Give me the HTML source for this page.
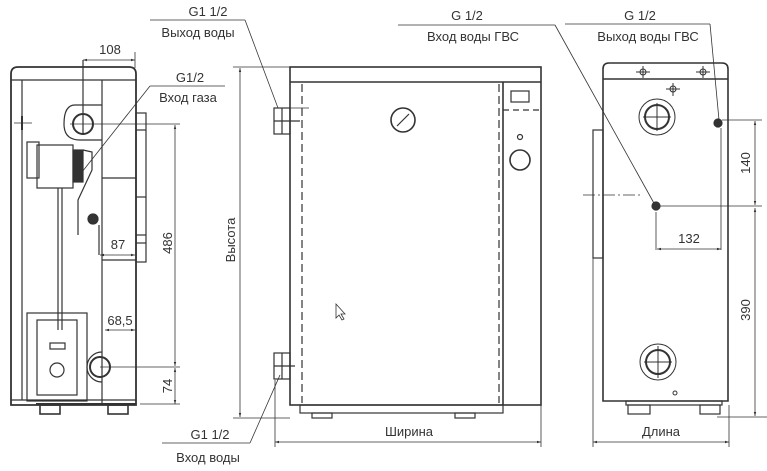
<!DOCTYPE html>
<html><head><meta charset="utf-8"><style>
html,body{margin:0;padding:0;background:#fff;}
svg{display:block;}
text{font-family:"Liberation Sans","DejaVu Sans",sans-serif;fill:#333;}
</style></head><body>
<svg width="767" height="471" viewBox="0 0 767 471" xmlns="http://www.w3.org/2000/svg">
<defs>
<marker id="a" viewBox="0 0 10 10" refX="10" refY="5" markerWidth="8" markerHeight="5" orient="auto-start-reverse"><path d="M0,2 L10,5 L0,8 z" fill="#333"/></marker>
</defs>
<g fill="none" stroke="#333" stroke-width="1.2">
<!-- LEFT VIEW -->
<path d="M11,405 V74 Q11,67 18,67 H129 Q136,67 136,74 V405 Z" stroke-width="1.8"/>
<line x1="22" y1="80" x2="22" y2="400"/>
<line x1="11" y1="80" x2="136" y2="80"/>
<line x1="102" y1="80" x2="102" y2="405"/>
<line x1="11" y1="400" x2="136" y2="400"/>
<path d="M102,178 H136" /><path d="M102,260 H136"/>
<rect x="136" y="113" width="10" height="149"/>
<line x1="136" y1="130" x2="146" y2="130"/><line x1="136" y1="197" x2="146" y2="197"/><line x1="136" y1="235" x2="146" y2="235"/><line x1="136" y1="243" x2="146" y2="243"/>
<path d="M102,105 H75 Q64,105 64,124 Q64,140 80,140 H102"/>
<circle cx="83" cy="124" r="10" stroke-width="2"/>
<line x1="83" y1="60" x2="83" y2="135"/>
<line x1="70" y1="124" x2="180" y2="124" stroke-width="0.8"/>
<line x1="14" y1="123" x2="32" y2="123" stroke-width="0.8"/>
<line x1="22" y1="116" x2="22" y2="130" stroke-width="2"/>
<rect x="27" y="142" width="12" height="36"/>
<rect x="37" y="145" width="36" height="43"/>
<rect x="73" y="150" width="10" height="32" fill="#333"/>
<path d="M83,150 L92,152 L92,170 L78,200 L78,235"/>
<line x1="58" y1="188" x2="58" y2="330"/><line x1="62" y1="188" x2="62" y2="330"/>
<circle cx="93" cy="219" r="5" fill="#333"/>
<path d="M99,225 V255"/>
<rect x="27" y="313" width="60" height="88"/>
<rect x="37" y="320" width="40" height="75"/>
<rect x="50" y="343" width="15" height="6"/>
<circle cx="57" cy="370" r="7"/>
<path d="M102,352 A15,15 0 0 0 102,382"/>
<circle cx="100" cy="367" r="10" stroke-width="2"/>
<line x1="100" y1="367" x2="180" y2="367" stroke-width="0.8"/>
<rect x="40" y="405" width="20" height="9" stroke-width="1.6"/>
<rect x="108" y="405" width="20" height="9" stroke-width="1.6"/>
<line x1="36" y1="404" x2="136" y2="404" stroke-width="2"/>
<!-- left dims -->
<g stroke-width="0.8">
<line x1="83" y1="60" x2="135" y2="60" marker-start="url(#a)" marker-end="url(#a)"/>
<line x1="135" y1="52" x2="135" y2="68"/>
<line x1="100" y1="255" x2="135" y2="255" marker-start="url(#a)" marker-end="url(#a)"/>
<line x1="105" y1="330" x2="135" y2="330" marker-start="url(#a)" marker-end="url(#a)"/>
<line x1="175" y1="125" x2="175" y2="366" marker-start="url(#a)" marker-end="url(#a)"/>
<line x1="175" y1="368" x2="175" y2="404" marker-start="url(#a)" marker-end="url(#a)"/>
<line x1="140" y1="404" x2="180" y2="404"/>
<line x1="240" y1="68" x2="240" y2="417" marker-start="url(#a)" marker-end="url(#a)"/>
<line x1="233" y1="67" x2="290" y2="67"/><line x1="233" y1="418" x2="290" y2="418"/>
<line x1="150" y1="86" x2="225" y2="86"/><line x1="150" y1="86" x2="82" y2="172"/>
<line x1="150" y1="20" x2="245" y2="20"/><line x1="245" y1="20" x2="278" y2="108"/>
<line x1="162" y1="443" x2="250" y2="443"/><line x1="250" y1="443" x2="280" y2="375"/>
</g>
<!-- MIDDLE VIEW -->
<rect x="290" y="67" width="251" height="338" stroke-width="1.6"/>
<line x1="290" y1="82" x2="541" y2="82" stroke-width="1.6"/>
<line x1="503" y1="82" x2="503" y2="405" stroke-width="1.6"/>
<line x1="302" y1="84" x2="302" y2="403" stroke-dasharray="8,4"/>
<line x1="499" y1="84" x2="499" y2="403" stroke-dasharray="8,4"/>
<line x1="503" y1="110" x2="540" y2="110" stroke-dasharray="6,4"/>
<rect x="511" y="91" width="18" height="11"/>
<circle cx="520" cy="137" r="2.5"/>
<circle cx="520" cy="160" r="10" stroke-width="1.6"/>
<circle cx="403" cy="120" r="12" stroke-width="1.6"/>
<line x1="397" y1="126" x2="409" y2="114"/>
<rect x="300" y="405" width="203" height="8"/>
<rect x="312" y="413" width="20" height="5"/><rect x="455" y="413" width="20" height="5"/>
<rect x="274" y="108" width="16" height="26"/><line x1="282" y1="108" x2="282" y2="134"/><line x1="274" y1="121" x2="300" y2="121"/><line x1="290" y1="108" x2="309" y2="108" stroke-width="0.8"/>
<rect x="274" y="353" width="16" height="26"/><line x1="282" y1="353" x2="282" y2="379"/><line x1="274" y1="366" x2="295" y2="366"/>
<path d="M336,304 L336,318 L339,315 L342,320 L344,319 L341,314 L345,314 Z" stroke-width="0.8"/>
<g stroke-width="0.8">
<line x1="275" y1="442" x2="541" y2="442" marker-start="url(#a)" marker-end="url(#a)"/>
<line x1="275" y1="380" x2="275" y2="447"/><line x1="541" y1="405" x2="541" y2="447"/>
<line x1="398" y1="25" x2="555" y2="25"/><line x1="555" y1="25" x2="655" y2="205"/>
<line x1="565" y1="24" x2="710" y2="24"/><line x1="710" y1="24" x2="719" y2="120"/>
</g>
<!-- RIGHT VIEW -->
<path d="M603,401 V69 Q603,63 609,63 H722 Q728,63 728,69 V401 Z" stroke-width="1.6"/>
<line x1="603" y1="79" x2="728" y2="79" stroke-width="1.6"/>
<rect x="593" y="130" width="10" height="128"/>
<rect x="626" y="401" width="96" height="4"/>
<rect x="628" y="405" width="22" height="9"/><rect x="700" y="405" width="20" height="9"/>
<g stroke-width="1">
<circle cx="657" cy="117" r="18"/><circle cx="657" cy="117" r="12" stroke-width="2"/>
<line x1="643" y1="117" x2="671" y2="117"/><line x1="657" y1="103" x2="657" y2="131"/>
<circle cx="658" cy="362" r="18"/><circle cx="658" cy="362" r="12" stroke-width="2"/>
<line x1="644" y1="362" x2="672" y2="362"/><line x1="658" y1="346" x2="658" y2="378"/>
<circle cx="643" cy="72" r="3"/><line x1="636" y1="72" x2="650" y2="72"/><line x1="643" y1="66" x2="643" y2="78"/>
<circle cx="703" cy="72" r="3"/><line x1="696" y1="72" x2="710" y2="72"/><line x1="703" y1="66" x2="703" y2="78"/>
<circle cx="673" cy="89" r="3"/><line x1="666" y1="89" x2="680" y2="89"/><line x1="673" y1="83" x2="673" y2="96"/>
<circle cx="675" cy="393" r="2"/>
</g>
<circle cx="718" cy="123" r="4" fill="#333"/>
<circle cx="656" cy="206" r="4" fill="#333"/>
<g stroke-width="0.8">
<line x1="583" y1="195" x2="640" y2="195" stroke-dasharray="12,3,2,3"/>
<line x1="656" y1="206" x2="762" y2="206"/>
<line x1="656" y1="212" x2="656" y2="250"/>
<line x1="721" y1="128" x2="721" y2="250"/>
<line x1="722" y1="120" x2="762" y2="120"/>
<line x1="657" y1="249" x2="721" y2="249" marker-start="url(#a)" marker-end="url(#a)"/>
<line x1="755" y1="121" x2="755" y2="205" marker-start="url(#a)" marker-end="url(#a)"/>
<line x1="755" y1="208" x2="755" y2="416" marker-start="url(#a)" marker-end="url(#a)"/>
<line x1="717" y1="417" x2="767" y2="417"/>
<line x1="593" y1="442" x2="729" y2="442" marker-start="url(#a)" marker-end="url(#a)"/>
<line x1="593" y1="258" x2="593" y2="447"/><line x1="729" y1="405" x2="729" y2="447"/>
</g>
</g>
<g font-size="13">
<text x="110" y="54" text-anchor="middle">108</text>
<text x="118" y="249" text-anchor="middle">87</text>
<text x="120" y="325" text-anchor="middle">68,5</text>
<text x="190" y="82" text-anchor="middle">G1/2</text>
<text x="188" y="102" text-anchor="middle">Вход газа</text>
<text x="208" y="16" text-anchor="middle">G1 1/2</text>
<text x="198" y="37" text-anchor="middle">Выход воды</text>
<text x="210" y="439" text-anchor="middle">G1 1/2</text>
<text x="208" y="462" text-anchor="middle">Вход воды</text>
<text transform="translate(172,243) rotate(-90)" text-anchor="middle">486</text>
<text transform="translate(172,386) rotate(-90)" text-anchor="middle">74</text>
<text transform="translate(235,240) rotate(-90)" text-anchor="middle">Высота</text>
<text x="409" y="436" text-anchor="middle">Ширина</text>
<text x="467" y="20" text-anchor="middle">G 1/2</text>
<text x="473" y="41" text-anchor="middle">Вход воды ГВС</text>
<text x="640" y="20" text-anchor="middle">G 1/2</text>
<text x="648" y="41" text-anchor="middle">Выход воды ГВС</text>
<text x="689" y="243" text-anchor="middle">132</text>
<text transform="translate(750,163) rotate(-90)" text-anchor="middle">140</text>
<text transform="translate(750,310) rotate(-90)" text-anchor="middle">390</text>
<text x="661" y="436" text-anchor="middle">Длина</text>
</g>
</svg>
</body></html>
